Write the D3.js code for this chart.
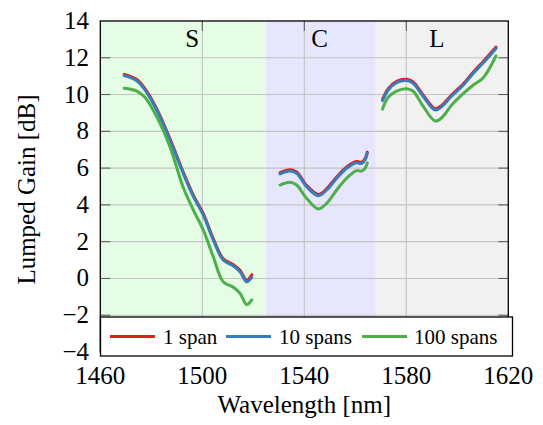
<!DOCTYPE html>
<html><head><meta charset="utf-8">
<script src="https://cdn.jsdelivr.net/npm/d3@7"></script>
<style>body{margin:0;background:#fff;} text{font-family:"Liberation Serif","Times New Roman",Times,"DejaVu Serif",serif;}</style>
</head><body><svg id="c" width="543" height="425"></svg>
<script>
// ---- data ----
const sWl = [1469.4,1474.3,1477.5,1482.1,1487.3,1492.5,1496.5,1500.4,1504.3,1508.2,1512.2,1514.8,1517.4,1519.4];
const cWl = [1530.5,1534.4,1537.0,1540.9,1545.5,1548.8,1552.7,1556.6,1560.5,1562.5,1563.8,1564.7];
const lWl = [1570.7,1572.9,1576.2,1580.2,1582.7,1586.7,1591.3,1593.9,1597.8,1602.4,1606.3,1610.2,1615.2];

const span1S = [11.1,10.82,10.32,9.23,7.6,5.79,4.52,3.52,2.16,1.07,0.75,0.44,-0.1,0.2];
const span1C = [5.75,5.91,5.79,5.06,4.57,4.88,5.52,6.06,6.36,6.32,6.51,6.87];
const span1L = [9.74,10.32,10.72,10.83,10.68,9.95,9.23,9.41,9.99,10.59,11.23,11.8,12.58];

const span10S = [11.03,10.75,10.25,9.16,7.53,5.72,4.45,3.45,2.09,1.0,0.68,0.37,-0.18,0.06];
const span10C = [5.68,5.84,5.72,4.99,4.5,4.81,5.45,5.99,6.29,6.25,6.44,6.8];
const span10L = [9.67,10.25,10.65,10.76,10.61,9.88,9.16,9.34,9.92,10.52,11.16,11.73,12.51];

const span100S = [10.34,10.19,9.85,8.8,7.17,4.96,3.72,2.63,1.18,-0.18,-0.48,-0.81,-1.42,-1.17];
const span100C = [5.08,5.23,5.08,4.36,3.78,4.09,4.81,5.45,5.86,5.84,5.99,6.28];
const span100L = [9.21,9.85,10.19,10.32,10.18,9.34,8.56,8.74,9.43,10.06,10.52,10.92,12.11];

const bandNames = ["S","C","L"];
const bandStart = [1460,1525,1568];
const bandEnd = [1525,1568,1620];
const bandLabelX = [1496,1546,1592];

const seriesNames = ["1 span","10 spans","100 spans"];
const xTicks = [1460,1500,1540,1580,1620];
const yTicks = [-4,-2,0,2,4,6,8,10,12,14];

// ---- layout ----
const FONT = '"Liberation Serif","Times New Roman",Times,serif';
const svg = d3.select("#c").attr("font-family",FONT);
const L = 100.3, R = 508.3, T = 21, B = 352;
const x = d3.scaleLinear().domain([1460,1620]).range([L,R]);
const y = d3.scaleLinear().domain([-4,14]).range([B,T]);
const colors = ["#e41a1c","#377eb8","#4daf4a"];
const bandColors = ["#e5fce5","#e6e6fd","#f1f1f1"];

// bands
svg.selectAll("rect.band").data(bandNames).enter().append("rect")
  .attr("x",(d,i)=>x(bandStart[i])).attr("y",T)
  .attr("width",(d,i)=>x(bandEnd[i])-x(bandStart[i])).attr("height",B-T)
  .attr("fill",(d,i)=>bandColors[i]);

// grid
const g = svg.append("g");
g.selectAll("line.gx").data(xTicks.slice(1,-1)).enter().append("line")
  .attr("x1",d=>x(d)).attr("x2",d=>x(d)).attr("y1",T).attr("y2",B)
  .attr("stroke","#c3c3c3").attr("stroke-width",1.1);
g.selectAll("line.gy").data(yTicks.slice(1,-1)).enter().append("line")
  .attr("y1",d=>y(d)).attr("y2",d=>y(d)).attr("x1",L).attr("x2",R)
  .attr("stroke","#c3c3c3").attr("stroke-width",1.1);

// ticks (inside, both sides)
const tl = 10;
const tk = svg.append("g").attr("stroke","#555").attr("stroke-width",1);
yTicks.slice(1,-1).forEach(v=>{
  tk.append("line").attr("x1",L).attr("x2",L+tl).attr("y1",y(v)).attr("y2",y(v));
  tk.append("line").attr("x1",R-tl).attr("x2",R).attr("y1",y(v)).attr("y2",y(v));
});
xTicks.slice(1,-1).forEach(v=>{
  tk.append("line").attr("x1",x(v)).attr("x2",x(v)).attr("y1",T).attr("y2",T+tl);
  tk.append("line").attr("x1",x(v)).attr("x2",x(v)).attr("y1",B-tl).attr("y2",B);
});

// band labels
svg.selectAll("text.band").data(bandNames).enter().append("text")
  .attr("font-family",FONT)
  .attr("x",(d,i)=>x(bandLabelX[i])).attr("y",46.5)
  .attr("text-anchor","middle").attr("font-size",25).attr("fill","#000").text(d=>d);

// curves
const line = d3.line().x(d=>x(d[0])).y(d=>y(d[1])).curve(d3.curveCatmullRom.alpha(0.5));
const bands = [
  {wl:sWl, s:[span1S,span10S,span100S]},
  {wl:cWl, s:[span1C,span10C,span100C]},
  {wl:lWl, s:[span1L,span10L,span100L]}
];
[0,1,2].forEach(si=>{
  bands.forEach(b=>{
    svg.append("path").datum(d3.zip(b.wl,b.s[si]))
      .attr("d",line).attr("fill","none").attr("stroke",colors[si])
      .attr("stroke-width",3).attr("stroke-linejoin","round").attr("stroke-linecap","round");
  });
});

// frame
svg.append("rect").attr("x",L).attr("y",T).attr("width",R-L).attr("height",B-T)
  .attr("fill","none").attr("stroke","#000").attr("stroke-width",1.3);

// tick labels
svg.selectAll("text.xt").data(xTicks).enter().append("text")
  .attr("font-family",FONT)
  .attr("x",d=>x(d)).attr("y",384).attr("text-anchor","middle")
  .attr("font-size",25).text(d=>d);
svg.selectAll("text.yt").data(yTicks).enter().append("text")
  .attr("font-family",FONT)
  .attr("x",89).attr("y",d=>y(d)+8).attr("text-anchor","end")
  .attr("font-size",25).text(d=>d<0?"\u2212"+Math.abs(d):d);

// axis labels
svg.append("text").attr("font-family",FONT).attr("x",(L+R)/2).attr("y",413).attr("text-anchor","middle")
  .attr("font-size",25).text("Wavelength [nm]");
svg.append("text").attr("font-family",FONT).attr("transform",`translate(35,${(T+B)/2+3}) rotate(-90)`)
  .attr("text-anchor","middle").attr("font-size",25).text("Lumped Gain [dB]");

// legend
const lg = svg.append("g");
lg.append("rect").attr("x",100.5).attr("y",317).attr("width",412).attr("height",39)
  .attr("fill","#fff").attr("stroke","#000").attr("stroke-width",1.3);
const legLineX = [110,226,362];
const legTextX = [163,279,414];
seriesNames.forEach((n,i)=>{
  lg.append("line").attr("x1",legLineX[i]).attr("x2",legLineX[i]+45)
    .attr("y1",336.5).attr("y2",336.5).attr("stroke",colors[i]).attr("stroke-width",3);
  lg.append("text").attr("font-family",FONT).attr("x",legTextX[i]).attr("y",344).attr("font-size",21).text(n);
});
</script></body></html>
